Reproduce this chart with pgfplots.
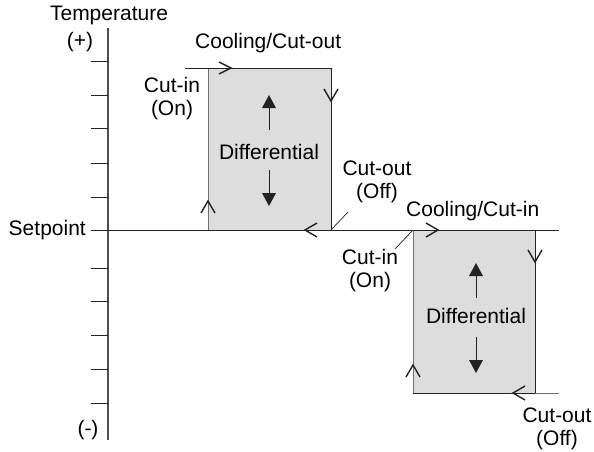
\documentclass[border=0pt]{standalone}
\usepackage{fontspec}
\setmainfont{Liberation Sans}
\usepackage{pgfplots}
\pgfplotsset{compat=1.18}
\definecolor{boxfill}{HTML}{DDDDDD}
\definecolor{edgegray}{HTML}{707070}
\definecolor{ink}{HTML}{222222}
\tikzset{lbl/.style={font=\fontsize{21}{23}\selectfont, align=center, inner sep=0pt, text=black}}
\begin{document}
\begin{tikzpicture}
\begin{axis}[scale only axis, width=594pt, height=452pt,
  xmin=0, xmax=594, ymin=0, ymax=452, y dir=reverse,
  hide axis, clip=false]
\path (rel axis cs:0,0) rectangle (rel axis cs:1,1);
% boxes
\addplot[fill=boxfill, draw=none] coordinates {(208,68) (331,68) (331,230) (208,230)} --cycle;
\addplot[fill=boxfill, draw=none] coordinates {(413,230) (535,230) (535,393) (413,393)} --cycle;
% vertical axis and ticks
\addplot[ink!80!white, line width=1.1pt] coordinates {(108,28) (108,440)};
\foreach \yy in {61,95,128,163,197,268,301,335,369,403} {
  \addplot[ink, line width=0.9pt] coordinates {(91,\yy) (108,\yy)};
}
% setpoint line
\addplot[ink, line width=0.9pt] coordinates {(91,230) (559,230)};
% left loop
\addplot[edgegray, line width=0.9pt] coordinates {(208,230) (208,68)};
\addplot[ink, line width=0.9pt] coordinates {(185,68) (331,68) (331,230)};
% right loop
\addplot[edgegray, line width=0.9pt] coordinates {(413,230) (413,393)};
\addplot[ink, line width=0.9pt] coordinates {(413,393) (535,393) (535,230)};
\addplot[edgegray, line width=0.9pt] coordinates {(535,393) (559,393)};
% chevrons
\addplot[ink, line width=1.4pt] coordinates {(219,62) (231,68) (219,74)};
\addplot[ink, line width=1.4pt] coordinates {(324,89) (331,101) (338,89)};
\addplot[ink, line width=1.4pt] coordinates {(201,213) (208,201) (215,213)};
\addplot[ink, line width=1.4pt] coordinates {(317,223) (305,230) (317,237)};
\addplot[ink, line width=1.4pt] coordinates {(426,223) (438,230) (426,237)};
\addplot[ink, line width=1.4pt] coordinates {(528,250) (535,262) (542,250)};
\addplot[ink, line width=1.4pt] coordinates {(406,377) (413,365) (420,377)};
\addplot[ink, line width=1.4pt] coordinates {(525,386) (513,393) (525,400)};
% leader lines
\addplot[ink, line width=0.7pt] coordinates {(331,230) (348,212)};
\addplot[ink, line width=0.7pt] coordinates {(413,230) (395,249)};
% differential arrows
\addplot[ink, line width=1pt] coordinates {(269,108) (269,130)};
\addplot[fill=ink, draw=none] coordinates {(262,108) (269,95) (276,108)} --cycle;
\addplot[ink, line width=1pt] coordinates {(269,170) (269,193)};
\addplot[fill=ink, draw=none] coordinates {(262,193) (269,206) (276,193)} --cycle;
\addplot[ink, line width=1pt] coordinates {(476,276) (476,298)};
\addplot[fill=ink, draw=none] coordinates {(469,276) (476,263) (483,276)} --cycle;
\addplot[ink, line width=1pt] coordinates {(476,337) (476,360)};
\addplot[fill=ink, draw=none] coordinates {(469,360) (476,373) (483,360)} --cycle;
% labels
\node[lbl] at (axis cs:109,15) {Temperature};
\node[lbl] at (axis cs:80,42) {(+)};
\node[lbl] at (axis cs:88,430) {(-)};
\node[lbl, anchor=east] at (axis cs:86,230) {Setpoint};
\node[lbl, anchor=west] at (axis cs:195,43) {Cooling/Cut-out};
\node[lbl] at (axis cs:172,99) {Cut-in\\(On)};
\node[lbl] at (axis cs:269,152) {Differential};
\node[lbl] at (axis cs:377,182) {Cut-out\\(Off)};
\node[lbl, anchor=west] at (axis cs:406,211) {Cooling/Cut-in};
\node[lbl] at (axis cs:370,271) {Cut-in\\(On)};
\node[lbl] at (axis cs:476,316) {Differential};
\node[lbl] at (axis cs:557,429) {Cut-out\\(Off)};
\end{axis}
\end{tikzpicture}
\end{document}
